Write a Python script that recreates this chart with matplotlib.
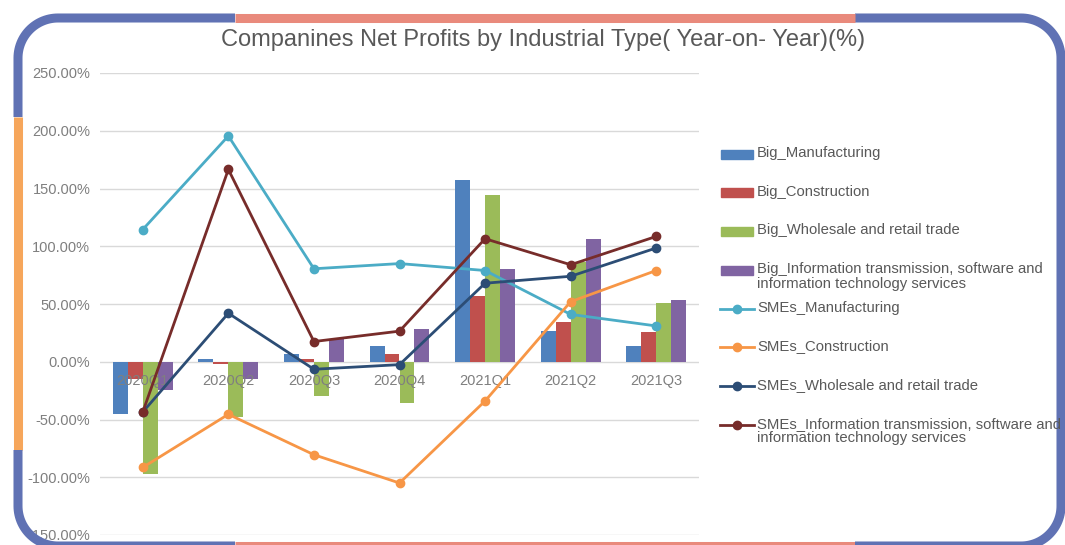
import numpy as np
import matplotlib.pyplot as plt
from matplotlib.patches import Rectangle
from matplotlib.lines import Line2D
from matplotlib.ticker import FuncFormatter

quarters = ['2020Q1', '2020Q2', '2020Q3', '2020Q4', '2021Q1', '2021Q2', '2021Q3']

# year-on-year net profit growth, %
big_manufacturing = [-45.5, 2, 7, 14, 157.5, 27, 14]
big_construction = [-15, -2.3, 2, 7, 56.5, 34, 26]
big_wholesale = [-97.5, -48, -30, -36, 144, 86, 50.5]
big_info = [-24.5, -15, 19.5, 28.5, 80, 106, 53.5]

sme_manufacturing = [114.5, 195.5, 80.5, 85, 79, 41, 31]
sme_construction = [-91.5, -45.5, -80.5, -105, -34, 52, 79]
sme_wholesale = [-43.5, 42, -6.5, -2.5, 68, 74, 98.5]
sme_info = [-43.5, 166.5, 17.5, 26.5, 106.5, 84, 108.5]

bar_series = [
    ('Big_Manufacturing', big_manufacturing, '#4F81BD'),
    ('Big_Construction', big_construction, '#C0504D'),
    ('Big_Wholesale and retail trade', big_wholesale, '#9BBB59'),
    ('Big_Information transmission, software and\ninformation technology services', big_info, '#8064A2'),
]
line_series = [
    ('SMEs_Manufacturing', sme_manufacturing, '#4BACC6'),
    ('SMEs_Construction', sme_construction, '#F79646'),
    ('SMEs_Wholesale and retail trade', sme_wholesale, '#2C4D75'),
    ('SMEs_Information transmission, software and\ninformation technology services', sme_info, '#772C2A'),
]

plt.rcParams['font.family'] = ['Liberation Sans', 'DejaVu Sans']

W, H = 1065, 545
fig = plt.figure(figsize=(W / 100, H / 100), dpi=100)
fig.patch.set_facecolor('white')

ax = fig.add_axes([100 / W, 1 - 535 / H, 599 / W, 462 / H])
x = np.arange(len(quarters))
bw = 0.175
for i, (name, vals, color) in enumerate(bar_series):
    ax.bar(x + (i - 1.5) * bw, vals, width=bw, color=color, zorder=2)

for name, vals, color in line_series:
    ax.plot(x, vals, color=color, linewidth=2, marker='o', markersize=6, zorder=4)

for i, q in enumerate(quarters):
    ax.annotate(q, (i, 0), xytext=(0, -8.5), textcoords='offset points',
                ha='center', va='top', fontsize=10.5, color='#7f7f7f', zorder=3)

ax.set_xlim(-0.5, len(quarters) - 0.5)
ax.set_ylim(-150, 250)
ax.set_yticks(np.arange(-150, 251, 50))
ax.yaxis.set_major_formatter(FuncFormatter(lambda v, p: f'{v:.2f}%'))
ax.tick_params(axis='y', length=0, pad=7, labelsize=10.5, labelcolor='#7f7f7f')
ax.set_xticks([])
ax.grid(axis='y', color='#d9d9d9', linewidth=1, zorder=0)
ax.set_axisbelow(True)
for s in ax.spines.values():
    s.set_visible(False)

fig.text(543 / W, 1 - 40 / H, 'Companines Net Profits by Industrial Type( Year-on- Year)(%)',
         ha='center', va='center', fontsize=17, color='#595959')

# overlay in pixel coordinates for the legend and the frame
ov = fig.add_axes([0, 0, 1, 1], zorder=5)
ov.set_xlim(0, W)
ov.set_ylim(H, 0)
ov.axis('off')
ov.patch.set_alpha(0)

row_y = 154
for name, vals, color in bar_series:
    ov.add_patch(Rectangle((721, row_y - 4.5), 32, 9, color=color))
    ov.text(757, row_y - 8, name, ha='left', va='top', fontsize=10.7,
            color='#595959', linespacing=1.05)
    row_y += 38.7
for name, vals, color in line_series:
    ov.add_line(Line2D([720, 754], [row_y, row_y], color=color, linewidth=2))
    ov.plot([737], [row_y], marker='o', markersize=6, color=color)
    ov.text(757, row_y - 8, name, ha='left', va='top', fontsize=10.7,
            color='#595959', linespacing=1.05)
    row_y += 38.7

# rounded decorative frame
L, T, R, B, r = 18, 18, 1061, 546, 40
blue, salmon, orange = '#6072B4', '#E98A7C', '#F6A65B'


def arc(cx, cy, a0, a1):
    a = np.radians(np.linspace(a0, a1, 30))
    return list(cx + r * np.cos(a)), list(cy + r * np.sin(a))


def seg(xs, ys, color):
    ov.plot(xs, ys, color=color, linewidth=6.5, solid_capstyle='butt',
            solid_joinstyle='round')


ax1, ay1 = arc(L + r, T + r, 270, 180)
seg([235] + ax1 + [L], [T] + ay1 + [117], blue)
seg([L, L], [117, 450], orange)
ax2, ay2 = arc(L + r, B - r, 180, 90)
seg([L] + ax2 + [235], [450] + ay2 + [B], blue)
seg([235, 855], [B, B], salmon)
ax3, ay3 = arc(R - r, B - r, 90, 0)
ax4, ay4 = arc(R - r, T + r, 0, -90)
seg([855] + ax3 + ax4 + [855], [B] + ay3 + ay4 + [T], blue)
seg([855, 235], [T, T], salmon)

fig.savefig('out.png', dpi=100, facecolor='white')
